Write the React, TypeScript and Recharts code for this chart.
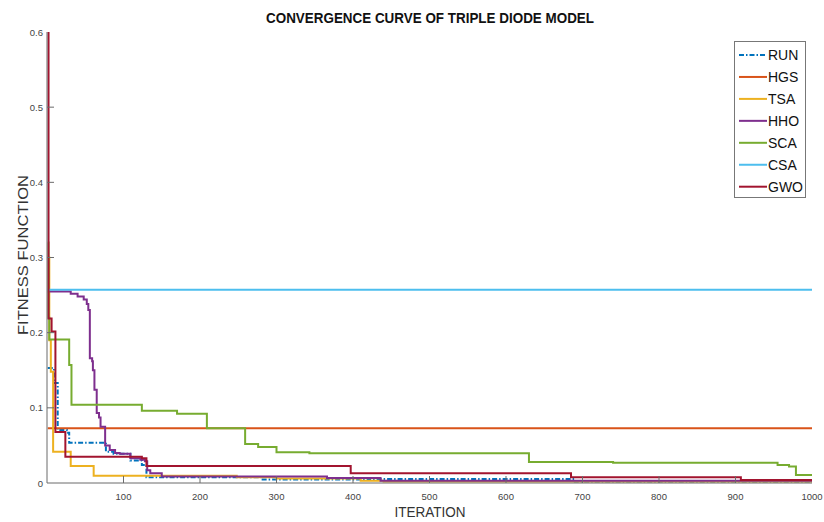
import React from "react";
import { LineChart, Line, XAxis, YAxis } from "recharts";

// change points (iteration, fitness); drawn as steps
const runIter = [1, 9, 14, 26, 29, 77, 87, 109, 124, 130, 280, 420, 690, 1000];
const runFit = [0.153, 0.133, 0.0706, 0.067, 0.0537, 0.0417, 0.039, 0.03, 0.024, 0.0078, 0.0045, 0.0052, 0.002, 0.002];

const hgsIter = [1, 1000];
const hgsFit = [0.0728, 0.0728];

const tsaIter = [1, 3, 5, 8, 31, 61, 248, 300, 410, 440, 1000];
const tsaFit = [0.3, 0.19, 0.148, 0.0417, 0.0226, 0.0095, 0.0075, 0.006, 0.003, 0.002, 0.0015];

const hhoIter = [1, 31, 40, 48, 52, 54, 56, 59, 60, 62, 65, 68, 70, 76, 82, 89, 95, 109, 122, 128, 131, 135, 150, 366, 436, 1000];
const hhoFit = [0.2547, 0.2517, 0.248, 0.244, 0.238, 0.23, 0.166, 0.162, 0.15, 0.124, 0.093, 0.087, 0.075, 0.05, 0.044, 0.04, 0.039, 0.033, 0.031, 0.029, 0.017, 0.013, 0.0085, 0.0065, 0.003, 0.002];

const scaIter = [1, 2, 3, 29, 32, 124, 170, 209, 259, 276, 300, 343, 630, 740, 955, 970, 979, 1000];
const scaFit = [0.32, 0.22, 0.191, 0.157, 0.104, 0.096, 0.092, 0.073, 0.052, 0.048, 0.041, 0.0395, 0.028, 0.027, 0.024, 0.022, 0.0107, 0.0107];

const csaIter = [1, 1000];
const csaFit = [0.257, 0.257];

const gwoIter = [1, 2, 6, 11, 24, 124, 130, 397, 685, 907, 1000];
const gwoFit = [0.6, 0.219, 0.2015, 0.068, 0.035, 0.033, 0.0226, 0.013, 0.0076, 0.004, 0.004];

const xTicks = [100, 200, 300, 400, 500, 600, 700, 800, 900, 1000];
const yTicks = [0, 0.1, 0.2, 0.3, 0.4, 0.5, 0.6];

const toPoints = (xs: number[], ys: number[]) => xs.map((x, i) => ({ x, y: ys[i] }));

const series = [
  { name: "RUN", color: "#0072BD", dash: "5 2 1.5 2", data: toPoints(runIter, runFit) },
  { name: "HGS", color: "#D95319", dash: undefined, data: toPoints(hgsIter, hgsFit) },
  { name: "TSA", color: "#EDB120", dash: undefined, data: toPoints(tsaIter, tsaFit) },
  { name: "HHO", color: "#7E2F8E", dash: undefined, data: toPoints(hhoIter, hhoFit) },
  { name: "SCA", color: "#77AC30", dash: undefined, data: toPoints(scaIter, scaFit) },
  { name: "CSA", color: "#4DBEEE", dash: undefined, data: toPoints(csaIter, csaFit) },
  { name: "GWO", color: "#A2142F", dash: undefined, data: toPoints(gwoIter, gwoFit) },
];

const W = 824;
const H = 522;
const margin = { top: 32, right: 12, bottom: 9, left: 7 };
const Y_AXIS_W = 40;
const X_AXIS_H = 30;
const PL = margin.left + Y_AXIS_W;
const PR = W - margin.right;
const PT = margin.top;
const PB = H - margin.bottom - X_AXIS_H;
const TICK = 7;
const AXIS = "#6b6b6b";
const FONT = "'Liberation Sans', Arial, sans-serif";

function BottomTick({ x, payload }: any) {
  const v = payload.value;
  return (
    <g>
      {v < 1000 && <line x1={x} x2={x} y1={PB} y2={PB - TICK} stroke={AXIS} />}
      <text x={x} y={PB + 13} textAnchor="middle" dominantBaseline="central" fontSize={9.5} fill="#444" fontFamily={FONT}>
        {v}
      </text>
    </g>
  );
}

function TopTick({ x, payload }: any) {
  if (payload.value <= 0 || payload.value >= 1000) return null;
  return <line x1={x} x2={x} y1={PT} y2={PT + TICK} stroke={AXIS} />;
}

function LeftTick({ y, payload }: any) {
  const v = payload.value;
  return (
    <g>
      {v > 0 && v < 0.6 && <line x1={PL} x2={PL + TICK} y1={y} y2={y} stroke={AXIS} />}
      <text x={PL - 4} y={y} textAnchor="end" dominantBaseline="central" fontSize={9.5} fill="#444" fontFamily={FONT}>
        {String(Math.round(v * 10) / 10)}
      </text>
    </g>
  );
}

function RightTick({ y, payload }: any) {
  const v = payload.value;
  if (v <= 0 || v >= 0.6) return null;
  return <line x1={PR} x2={PR - TICK} y1={y} y2={y} stroke={AXIS} />;
}

export default function App() {
  return (
    <div style={{ position: "absolute", left: 0, top: 0, width: W, height: H, background: "#fff" }}>
      <LineChart width={W} height={H} margin={margin}>
        <XAxis
          dataKey="x"
          type="number"
          domain={[0, 1000]}
          ticks={xTicks}
          height={X_AXIS_H}
          allowDataOverflow
          axisLine={{ stroke: AXIS }}
          tickLine={false}
          tick={<BottomTick />}
          interval={0}
        />
        <XAxis
          xAxisId="top"
          orientation="top"
          dataKey="x"
          type="number"
          domain={[0, 1000]}
          ticks={xTicks}
          height={0}
          axisLine={{ stroke: AXIS }}
          tickLine={false}
          tick={<TopTick />}
          interval={0}
        />
        <YAxis
          type="number"
          domain={[0, 0.6]}
          ticks={yTicks}
          width={Y_AXIS_W}
          allowDataOverflow
          axisLine={{ stroke: AXIS }}
          tickLine={false}
          tick={<LeftTick />}
          interval={0}
        />
        <YAxis
          yAxisId="right"
          orientation="right"
          type="number"
          domain={[0, 0.6]}
          ticks={yTicks}
          width={0}
          axisLine={{ stroke: AXIS }}
          tickLine={false}
          tick={<RightTick />}
          interval={0}
        />
        {series.map((s) => (
          <Line
            key={s.name}
            data={s.data}
            dataKey="y"
            name={s.name}
            type="stepAfter"
            stroke={s.color}
            strokeWidth={2}
            strokeDasharray={s.dash}
            dot={false}
            activeDot={false}
            isAnimationActive={false}
          />
        ))}
      </LineChart>
      <svg width={W} height={H} style={{ position: "absolute", left: 0, top: 0, pointerEvents: "none" }}>
        <text x={430} y={18} textAnchor="middle" dominantBaseline="central" fontSize={14.5} fontWeight="bold" fontFamily={FONT} textLength={328} lengthAdjust="spacingAndGlyphs" fill="#111">
          CONVERGENCE CURVE OF TRIPLE DIODE MODEL
        </text>
        <text x={430} y={511} textAnchor="middle" dominantBaseline="central" fontSize={15} fontFamily={FONT} textLength={71} lengthAdjust="spacingAndGlyphs" fill="#333">
          ITERATION
        </text>
        <text x={22} y={255} textAnchor="middle" dominantBaseline="central" fontSize={15} fontFamily={FONT} textLength={160} lengthAdjust="spacingAndGlyphs" fill="#333" transform="rotate(-90 22 255)">
          FITNESS FUNCTION
        </text>
        <g>
          <rect x={734.5} y={41.5} width={71} height={156} fill="#fff" stroke="#777" />
          {series.map((s, i) => {
            const cy = 55 + i * 21.95;
            return (
              <g key={s.name}>
                <line x1={739} x2={767} y1={cy} y2={cy} stroke={s.color} strokeWidth={2} strokeDasharray={s.dash} />
                <text x={768} y={cy} dominantBaseline="central" fontSize={14} fontFamily={FONT} fill="#111">
                  {s.name}
                </text>
              </g>
            );
          })}
        </g>
      </svg>
    </div>
  );
}
